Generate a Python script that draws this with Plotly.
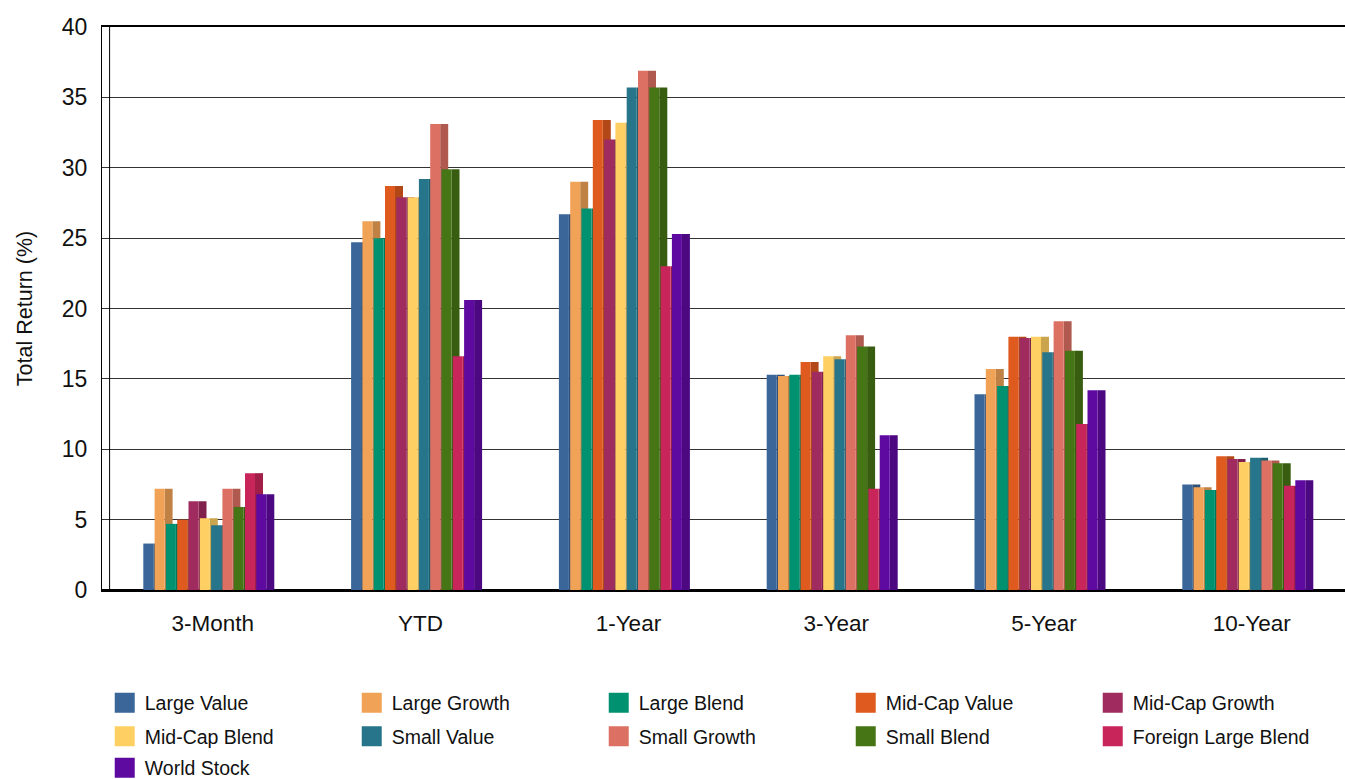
import plotly.graph_objects as go

categories = ["3-Month", "YTD", "1-Year", "3-Year", "5-Year", "10-Year"]

series_names = [
    "Large Value", "Large Growth", "Large Blend", "Mid-Cap Value", "Mid-Cap Growth",
    "Mid-Cap Blend", "Small Value", "Small Growth", "Small Blend", "Foreign Large Blend",
    "World Stock",
]

large_value = [3.3, 24.7, 26.7, 15.3, 13.9, 7.5]
large_growth = [7.2, 26.2, 29.0, 15.2, 15.7, 7.3]
large_blend = [4.7, 25.0, 27.1, 15.3, 14.5, 7.1]
mid_cap_value = [5.0, 28.7, 33.4, 16.2, 18.0, 9.5]
mid_cap_growth = [6.3, 27.9, 32.0, 15.5, 17.9, 9.3]
mid_cap_blend = [5.1, 27.9, 33.2, 16.6, 18.0, 9.1]
small_value = [4.6, 29.2, 35.7, 16.4, 16.9, 9.4]
small_growth = [7.2, 33.1, 36.9, 18.1, 19.1, 9.2]
small_blend = [5.9, 29.9, 35.7, 17.3, 17.0, 9.0]
foreign_large_blend = [8.3, 16.6, 23.0, 7.2, 11.8, 7.4]
world_stock = [6.8, 20.6, 25.3, 11.0, 14.2, 7.8]

series_values = [
    large_value, large_growth, large_blend, mid_cap_value, mid_cap_growth,
    mid_cap_blend, small_value, small_growth, small_blend, foreign_large_blend,
    world_stock,
]

colors = [
    "#3A6699", "#F0A257", "#009270", "#DF5A1F", "#A02B5F",
    "#FECF62", "#26758A", "#DC7063", "#467515", "#C8265A", "#5E0AA0",
]

y_ticks = [0, 5, 10, 15, 20, 25, 30, 35, 40]


def darker(hex_color, f=0.8):
    h = hex_color.lstrip("#")
    r, g, b = (int(h[i:i + 2], 16) for i in (0, 2, 4))
    return "#%02X%02X%02X" % (int(r * f), int(g * f), int(b * f))


# geometry (pixels -> category units)
W, H = 1345, 779
ML, MR, MT, MB = 102, 0, 27, 189
plot_w = W - ML - MR
plot_h = H - MT - MB
px_per_cat = 207.8
x_left = -(212.8 - ML) / px_per_cat
x_right = x_left + plot_w / px_per_cat
u = 1.0 / px_per_cat
front_w = 10 * u
side_w = 8 * u
step = 11.3 * u
first_left = -69.5 * u

FONT = "Liberation Sans, Arial, sans-serif"
xs = list(range(len(categories)))

fig = go.Figure()
for i, (name, vals, col) in enumerate(zip(series_names, series_values, colors)):
    left = first_left + i * step
    # side face (drawn first so the next bar's front covers it)
    fig.add_trace(go.Bar(
        x=xs, y=vals, width=side_w, offset=left + front_w,
        marker=dict(color=darker(col), line=dict(width=0)),
        showlegend=False, hoverinfo="skip",
    ))
    fig.add_trace(go.Bar(
        x=xs, y=vals, width=front_w, offset=left,
        marker=dict(color=col, line=dict(width=0)),
        name=name, showlegend=False,
        hovertemplate=name + ": %{y}<extra></extra>",
    ))

# legend entries: five per row, one legend per row
per_row = 5
legend_ids = ["legend", "legend2", "legend3"]
for i, (name, col) in enumerate(zip(series_names, colors)):
    fig.add_trace(go.Scatter(
        x=[None], y=[None], mode="markers", name=name,
        legend=legend_ids[i // per_row],
        marker=dict(symbol="square", size=16, color=col, line=dict(color=col, width=4)),
    ))

row_centers_px = [702, 735.5, 767]
legend_layout = {}
for lid, cy in zip(legend_ids, row_centers_px):
    legend_layout[lid] = dict(
        orientation="h", x=0.0022, xanchor="left",
        y=-(cy - 18.4 - (MT + plot_h)) / plot_h, yanchor="top",
        entrywidth=202, entrywidthmode="pixels",
        font=dict(size=19.5, family=FONT, color="#111111"),
        bgcolor="rgba(0,0,0,0)", itemclick=False, itemdoubleclick=False,
    )

fig.update_layout(
    width=W, height=H,
    margin=dict(l=ML, r=MR, t=MT, b=MB, pad=0, autoexpand=False),
    paper_bgcolor="white", plot_bgcolor="white",
    barmode="overlay",
    font=dict(family=FONT, color="#111111"),
    showlegend=True,
    xaxis=dict(
        range=[x_left, x_right], tickmode="array", tickvals=xs, ticktext=categories,
        tickfont=dict(size=22.5, family=FONT, color="#111111"),
        showgrid=False, zeroline=False,
        showline=True, linecolor="#000000", linewidth=2, mirror=True,
        ticks="", ticklabelstandoff=12,
    ),
    yaxis=dict(
        range=[0, 40], tickmode="array", tickvals=y_ticks,
        tickfont=dict(size=23, family=FONT, color="#111111"),
        showgrid=True, gridcolor="#333333", gridwidth=1,
        zeroline=True, zerolinecolor="#000000", zerolinewidth=2,
        showline=True, linecolor="#000000", linewidth=1,
        ticks="", ticklabelstandoff=9,
        title=dict(text="Total Return (%)", font=dict(size=21.5, family=FONT, color="#111111"), standoff=23),
    ),
    **legend_layout,
)

# inner wall line of the pseudo-3D frame
fig.add_shape(type="line", xref="paper", yref="paper",
              x0=7.6 / plot_w, x1=7.6 / plot_w, y0=0, y1=1,
              line=dict(color="#000000", width=1), layer="above")

fig.write_html(
    "out.html",
    config={"displayModeBar": False},
    post_script="document.body.style.margin='0';document.body.style.overflow='hidden';",
)
